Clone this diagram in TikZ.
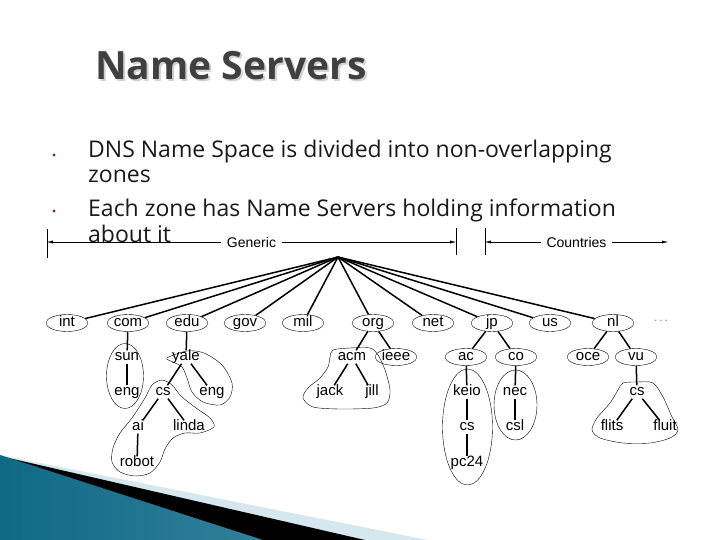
\documentclass[tikz,border=0pt]{standalone}
\usepackage{fontspec}
\usetikzlibrary{arrows.meta, positioning, shapes.geometric}
\usepackage{xcolor}
\newfontfamily\titlefont{Open Sans}
\newfontfamily\bodyfont{Open Sans}
\newfontfamily\treefont{Liberation Sans}
\definecolor{titlegray}{RGB}{64,64,64}
\definecolor{shadowgray}{RGB}{210,210,210}
\definecolor{bulletred}{RGB}{140,30,40}
\definecolor{tealdark}{RGB}{14,105,135}
\definecolor{teallight}{RGB}{85,182,215}
\definecolor{paleblue}{RGB}{214,232,238}

\begin{document}
\begin{tikzpicture}[x=1pt, y=-1pt,
  dom/.style={ellipse, draw, thin, minimum width=42pt, minimum height=17pt, inner sep=0pt,
              text height=8pt, text depth=1pt, font=\treefont\fontsize{15}{15}\selectfont},
  lbl/.style={inner sep=2pt, text height=8pt, text depth=1pt, font=\treefont\fontsize{15}{15}\selectfont},
  branch/.style={line width=1.5pt},
  zone/.style={thin},
  body/.style={anchor=base west, inner sep=0pt, font=\bodyfont\fontsize{23}{25}\selectfont, text=black!90},
  bullet/.style={circle, fill=bulletred, inner sep=1.2pt},
  rangearrow/.style={{Latex[length=6pt,width=3pt]}-{Latex[length=6pt,width=3pt]}, thin},
  rangelbl/.style={fill=white, inner sep=6pt, font=\treefont\fontsize{14}{14}\selectfont}
]
\useasboundingbox (0,0) rectangle (720,540);

% slide decoration, bottom left
\fill[paleblue] (0,455) -- (428,540) -- (0,540) -- cycle;
\fill[black] (0,456) -- (365,540) -- (0,540) -- cycle;
\shade[left color=tealdark, middle color=teallight, right color=tealdark!85] (0,455) -- (263,540) -- (0,540) -- cycle;

% title and bullets
\node[anchor=base west, inner sep=0pt, font=\titlefont\bfseries\fontsize{39}{39}\selectfont, text=shadowgray] (titleshadow) at (97,82) {Name Servers};
\node[anchor=base west, inner sep=0pt, font=\titlefont\bfseries\fontsize{39}{39}\selectfont, text=titlegray] (title) at (95,80) {Name Servers};

\node[bullet] (b1) at (54,155) {};
\node[body] (line1) at (88,158) {DNS Name Space is divided into non-overlapping};
\node[body] (line2) at (88,183) {zones};
\node[bullet] (b2) at (54,211) {};
\node[body] (line3) at (88,217) {Each zone has Name Servers holding information};
\node[body] (line4) at (88,242) {about it};

% generic / countries ranges
\coordinate (genL) at (47,242);
\coordinate (genR) at (456,242);
\coordinate (cntL) at (485,242);
\coordinate (cntR) at (668,242);
\draw[thin] (47,229) -- (47,258);
\draw[thin] (456,228) -- (456,255);
\draw[thin] (485,228) -- (485,255);
\draw[rangearrow] (genL) -- node[rangelbl] (generic) {Generic} (genR);
\draw[rangearrow] (cntL) -- node[rangelbl] (countries) {Countries} (cntR);

% top level domains
\coordinate (root) at (338,257);
\node[dom] (int) at (67,323) {int};
\node[dom] (com) at (128,323) {com};
\node[dom] (edu) at (187,323) {edu};
\node[dom] (gov) at (245,323) {gov};
\node[dom] (mil) at (303,323) {mil};
\node[dom] (org) at (373,323) {org};
\node[dom] (net) at (433,323) {net};
\node[dom] (jp) at (492,323) {jp};
\node[dom] (us) at (550,323) {us};
\node[dom] (nl) at (613,323) {nl};
\node[text=gray, font=\treefont\fontsize{12}{12}\selectfont] (more) at (661,321) {.\,.\,.};

\draw[branch] (root) -- (int);
\draw[branch] (root) -- (com);
\draw[branch] (root) -- (edu);
\draw[branch] (root) -- (gov);
\draw[branch] (root) -- (mil);
\draw[branch] (root) -- (org);
\draw[branch] (root) -- (net);
\draw[branch] (root) -- (jp);
\draw[branch] (root) -- (us);
\draw[branch] (root) -- (nl);

% com, edu
\node[lbl] (sun) at (127,357) {sun};
\node[lbl] (engA) at (127,392) {eng};
\node[lbl] (yale) at (186,357) {yale};
\node[lbl] (csA) at (163,392) {cs};
\node[lbl] (engB) at (212,392) {eng};
\node[lbl] (ai) at (138,427) {ai};
\node[lbl] (linda) at (189,427) {linda};
\node[lbl] (robot) at (137,463) {robot};

\draw[branch] (com) -- (sun);
\draw[branch] (sun) -- (engA);
\draw[branch] (edu) -- (yale);
\draw[branch] (yale) -- (csA);
\draw[branch] (yale) -- (engB);
\draw[branch] (csA) -- (ai);
\draw[branch] (csA) -- (linda);
\draw[branch] (ai) -- (robot);

% org
\node[lbl] (acm) at (352,357) {acm};
\node[dom] (ieee) at (396,357) {ieee};
\node[lbl] (jack) at (330,392) {jack};
\node[lbl] (jill) at (372,392) {jill};

\draw[branch] (org) -- (acm);
\draw[branch] (org) -- (ieee);
\draw[branch] (acm) -- (jack);
\draw[branch] (acm) -- (jill);

% jp
\node[dom] (ac) at (466,357) {ac};
\node[dom] (co) at (516,357) {co};
\node[lbl] (keio) at (467,392) {keio};
\node[lbl] (csB) at (467,427) {cs};
\node[lbl] (pc24) at (467,463) {pc24};
\node[lbl] (nec) at (515,392) {nec};
\node[lbl] (csl) at (515,427) {csl};

\draw[branch] (jp) -- (ac);
\draw[branch] (jp) -- (co);
\draw[branch] (ac) -- (keio);
\draw[branch] (keio) -- (csB);
\draw[branch] (csB) -- (pc24);
\draw[branch] (co) -- (nec);
\draw[branch] (nec) -- (csl);

% nl
\node[dom] (oce) at (588,357) {oce};
\node[dom] (vu) at (636,357) {vu};
\node[lbl] (csC) at (637,392) {cs};
\node[lbl] (flits) at (612,427) {flits};
\node[lbl] (fluit) at (665,427) {fluit};

\draw[branch] (nl) -- (oce);
\draw[branch] (nl) -- (vu);
\draw[branch] (vu) -- (csC);
\draw[branch] (csC) -- (flits);
\draw[branch] (csC) -- (fluit);

% zones
\draw[zone] (125,376) ellipse [x radius=18.5, y radius=32.5];
\draw[zone] plot[smooth cycle] coordinates {(167,358) (187,351) (204,353) (222,365) (232,383) (230,397) (220,405) (203,402) (192,392) (187,378) (182,367) (173,362)};
\draw[zone] plot[smooth cycle] coordinates {(152,385) (162,380) (172,385) (181,396) (196,408) (210,418) (214,427) (200,433) (185,433) (173,438) (165,449) (160,462) (150,473) (135,476) (120,472) (112,462) (113,448) (120,433) (132,418) (145,398)};
\draw[zone] plot[smooth cycle] coordinates {(333,350) (350,348) (370,348) (378,355) (385,370) (390,390) (387,403) (373,408) (340,409) (313,407) (303,398) (308,388) (320,378) (328,367) (330,357)};
\draw[zone] (467.5,427) ellipse [x radius=25, y radius=58];
\draw[zone] (515.5,405) ellipse [x radius=21.5, y radius=35];
\draw[zone] plot[smooth cycle] coordinates {(623,383) (637,382) (653,383) (663,397) (672,417) (678,430) (670,438) (650,443) (623,443) (600,438) (592,430) (597,418) (610,403) (618,390)};

\end{tikzpicture}
\end{document}
